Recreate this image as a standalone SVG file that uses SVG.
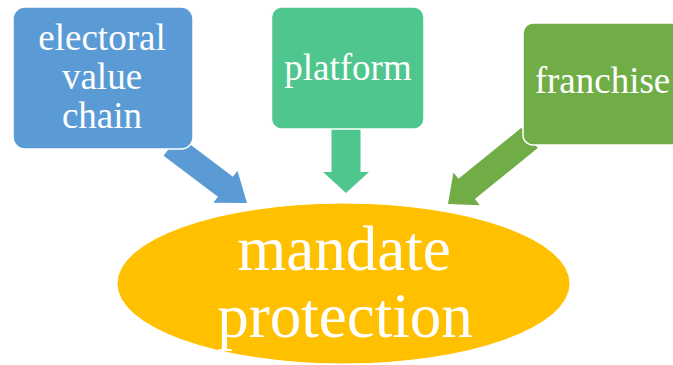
<svg xmlns="http://www.w3.org/2000/svg" width="673" height="365" viewBox="0 0 673 365">
  <style>
    .box { stroke: #ffffff; stroke-width: 1.5; }
  </style>
  <defs>
    <!-- block arrows pointing +x, tip at origin -->
    <polygon id="arrowA" points="0,0 -27,-20 -27,-12.5 -95,-12.5 -95,12.5 -27,12.5 -27,20"/>
    <polygon id="arrowB" points="0,0 -21,-23 -21,-14.5 -64,-14.5 -64,14.5 -21,14.5 -21,23"/>
    <polygon id="arrowC" points="0,0 -24,-21 -24,-13 -105,-13 -105,13 -24,13 -24,21"/>
  </defs>

  <g id="mandate-protection">
    <ellipse cx="343.5" cy="283.5" rx="226.5" ry="80.5" fill="#FFC000" stroke="#ffffff" stroke-width="1"/>
    <g font-family="'Liberation Serif', 'Times New Roman', serif" font-size="63" fill="#ffffff" text-anchor="middle">
      <text x="344" y="270">mandate</text>
      <text x="345" y="337">protection</text>
    </g>
  </g>

  <g id="connectors">
    <use href="#arrowA" fill="#5B9BD5" transform="translate(247,203) rotate(37)"/>
    <use href="#arrowB" fill="#4FC68D" transform="translate(346,193) rotate(90)"/>
    <use href="#arrowC" fill="#70AD47" transform="translate(448,204) rotate(141)"/>
  </g>

  <g id="electoral-value-chain">
    <rect class="box" x="13" y="7" width="180" height="142" rx="12" fill="#5B9BD5"/>
    <g font-family="'Liberation Serif', 'Times New Roman', serif" font-size="37" fill="#ffffff" text-anchor="middle">
      <text x="102" y="50">electoral</text>
      <text x="102" y="89">value</text>
      <text x="102" y="127.5">chain</text>
    </g>
  </g>

  <g id="platform">
    <rect class="box" x="271.5" y="7" width="152.5" height="122" rx="10" fill="#4FC68D"/>
    <text x="348" y="79.5" font-family="'Liberation Serif', 'Times New Roman', serif" font-size="37" fill="#ffffff" text-anchor="middle">platform</text>
  </g>

  <g id="franchise">
    <rect class="box" x="523" y="23" width="160" height="122" rx="10" fill="#70AD47"/>
    <text x="602.5" y="93" font-family="'Liberation Serif', 'Times New Roman', serif" font-size="37" fill="#ffffff" text-anchor="middle">franchise</text>
  </g>
</svg>
